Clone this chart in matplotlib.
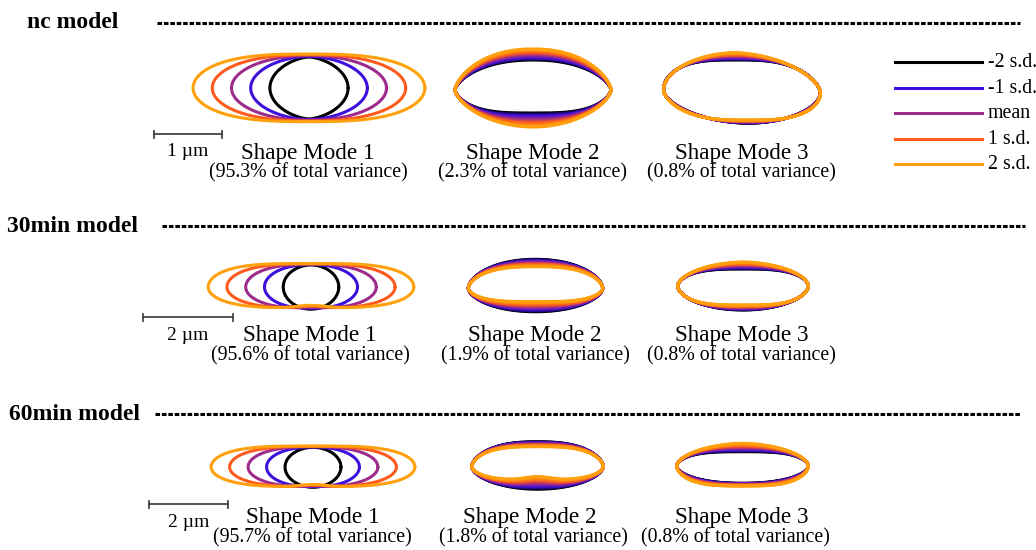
'''shape modes of the cell outline for the three models'''

import numpy as np
import matplotlib.pyplot as plt
from matplotlib.colors import LinearSegmentedColormap

plt.rcParams['font.family'] = ['Liberation Serif', 'DejaVu Serif']

models = ['nc model', '30min model', '60min model']
modes = ['Shape Mode 1', 'Shape Mode 2', 'Shape Mode 3']
variance = [[95.3, 2.3, 0.8], [95.6, 1.9, 0.8], [95.7, 1.8, 0.8]]  # % of total
bar_um = [1, 2, 2]

sd_levels = [-2, -1, 0, 1, 2]
sd_labels = ['-2 s.d.', '-1 s.d.', 'mean', '1 s.d.', '2 s.d.']
sd_colors = ['#000000', '#3d10dc', '#9c2b8c', '#ff5b1c', '#ffa00c']

# shape model, one row per model, one column per mode (um)
# value at s s.d. = mean + s * per_sd
half_width_mean = [[1.15, 1.157, 1.162], [1.451, 1.493, 1.451], [1.637, 1.657, 1.657]]
half_width_sd = [[0.285, 0.0, 0.0], [0.417, 0.0, 0.0], [0.466, 0.0, 0.0]]
top_mean = [[0.482, 0.527, 0.522], [0.506, 0.562, 0.456], [0.513, 0.567, 0.466]]
top_sd = [[0.011, 0.041, 0.027], [0.008, -0.041, 0.039], [0.008, -0.031, 0.053]]
bottom_mean = [[0.479, 0.445, 0.447], [0.48, 0.409, 0.478], [0.504, 0.448, 0.47]]
bottom_sd = [[0.01, 0.052, -0.012], [-0.007, -0.056, -0.028], [-0.004, -0.06, 0.017]]
# squareness of the top / bottom edge (<1 flat, >1 pointed)
ptop_mean = [[0.98, 0.9, 0.875], [0.8, 0.85, 0.875], [0.8, 0.72, 0.85]]
ptop_sd = [[-0.14, 0.0, 0.11], [-0.12, -0.05, 0.11], [-0.12, -0.04, 0.125]]
pbot_mean = [[0.98, 0.8, 0.85], [0.8, 0.78, 0.8], [0.8, 0.8, 0.75]]
pbot_sd = [[-0.14, 0.1, -0.1], [-0.12, -0.09, -0.1], [-0.12, -0.1, -0.075]]
# pointedness of the left / right ends
ends = [[1.0, 1.3, 1.15], [1.0, 1.15, 1.1], [1.0, 1.15, 1.1]]
dent_mean = [[0.0, 0.0, 0.0], [0.03, 0.0, 0.0], [0.028, 0.04, 0.0]]
dent_sd = [[0.0, 0.0, 0.0], [0.015, 0.0, 0.0], [0.014, 0.02, 0.0]]
shear = [[0.0, 0.0, -0.2], [0.0, 0.0, 0.0], [0.0, 0.0, 0.0]]

# layout in pixels
bar_px = [67.4, 90.0, 79.3]
bar_x = [154.3, 142.7, 149.0]
bar_y = [134.0, 317.3, 504.3]
shape_x = [[309, 533, 742], [311, 535.5, 743], [313, 537.5, 742.5]]
shape_y = [[88, 90, 91.5], [287, 288.3, 286], [467, 466.7, 466]]
label_x = [[308, 533, 742], [310, 535, 742], [312.5, 530, 741.5]]
var_x = [[308, 533, 741], [310, 535, 741], [312.5, 533, 735]]
label_y = [153, 336, 518]
title_x = [27, 7, 9]
title_y = [23, 226, 414]
dash_x = [(157, 1020), (162, 1025), (155, 1020)]


def outline(a, ht, hb, pt, pb, q, dent, sh, n=900):
    t = np.linspace(0, 2 * np.pi, n)
    c, s = np.cos(t), np.sin(t)
    top = s >= 0
    p = np.where(top, pt, pb)
    x = a * np.sign(c) * np.abs(c) ** p
    y = np.where(top, ht, hb) * np.sign(s) * np.abs(s) ** q
    y = y + np.where(top, 0, dent * np.exp(-(x / 0.45) ** 2))
    x = x + sh * y
    return x, y


cmap = LinearSegmentedColormap.from_list('sd', sd_colors)

fig = plt.figure(figsize=(10.36, 5.5), dpi=100)
ax = fig.add_axes([0, 0, 1, 1])
ax.set_xlim(0, 1036)
ax.set_ylim(550, 0)
ax.axis('off')

for i, model in enumerate(models):
    k = bar_px[i] / bar_um[i]  # px per um
    ax.text(title_x[i], title_y[i], model, fontsize=17, fontweight='bold',
            ha='left', va='center')
    ax.plot(dash_x[i], [title_y[i]] * 2, color='black', lw=2.2,
            dashes=(1.5, 0.6))
    for j in range(3):
        if j == 0:
            levels = sd_levels
            colors = sd_colors
        else:
            levels = list(np.linspace(-2, 2, 21))
            colors = [cmap((s + 2) / 4) for s in levels]
        for s, col in zip(levels, colors):
            x, y = outline(half_width_mean[i][j] + s * half_width_sd[i][j],
                           top_mean[i][j] + s * top_sd[i][j],
                           bottom_mean[i][j] + s * bottom_sd[i][j],
                           ptop_mean[i][j] + s * ptop_sd[i][j],
                           pbot_mean[i][j] + s * pbot_sd[i][j],
                           ends[i][j],
                           dent_mean[i][j] + s * dent_sd[i][j],
                           shear[i][j])
            ax.plot(shape_x[i][j] + x * k, shape_y[i][j] - y * k, color=col,
                    lw=2.2, solid_capstyle='round')
        ax.text(label_x[i][j], label_y[i], modes[j], fontsize=16.7,
                ha='center', va='center')
        ax.text(var_x[i][j], label_y[i] + 20,
                '({}% of total variance)'.format(variance[i][j]),
                fontsize=14.3, ha='center', va='center')
    # scale bar
    x0 = bar_x[i]
    x1 = x0 + bar_um[i] * k
    ax.plot([x0, x1], [bar_y[i]] * 2, color='#444444', lw=1.3)
    ax.plot([x0, x0], [bar_y[i] - 3.5, bar_y[i] + 3.5], color='#444444', lw=1.3)
    ax.plot([x1, x1], [bar_y[i] - 3.5, bar_y[i] + 3.5], color='#444444', lw=1.3)
    ax.text((x0 + x1) / 2, bar_y[i] + 18, '{} \u00b5m'.format(bar_um[i]),
            fontsize=14, ha='center', va='center')

# legend
leg_y = [62.3, 88.3, 113.3, 139, 164.3]
for lab, col, ly in zip(sd_labels, sd_colors, leg_y):
    ax.plot([895, 981.7], [ly, ly], color=col, lw=2.2)
    ax.text(987.5, ly, lab, fontsize=14.3, ha='left', va='center')

fig.savefig('out.png', dpi=100)
